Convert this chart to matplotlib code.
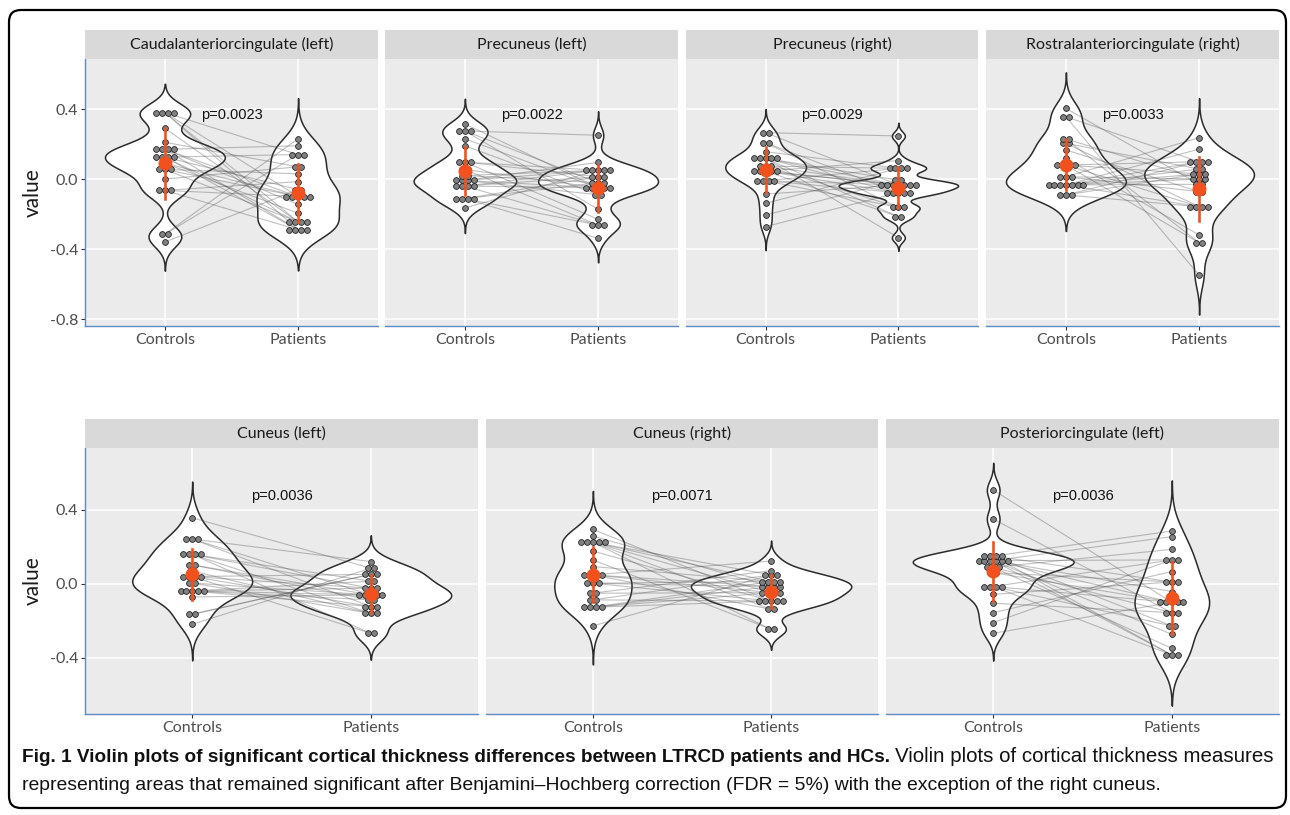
import numpy as np
import matplotlib
matplotlib.use("Agg")
import matplotlib.pyplot as plt
from matplotlib.patches import FancyBboxPatch

# -------------------------------------------------
# Data (pairs by index)
# -------------------------------------------------

groups = ["Controls", "Patients"]

top_titles = ["Caudalanteriorcingulate (left)", "Precuneus (left)",
              "Precuneus (right)", "Rostralanteriorcingulate (right)"]
top_pvals = ["p=0.0023", "p=0.0022", "p=0.0029", "p=0.0033"]

bot_titles = ["Cuneus (left)", "Cuneus (right)", "Posteriorcingulate (left)"]
bot_pvals = ["p=0.0036", "p=0.0071", "p=0.0036"]

caudal_l_ctrl = [0.38, 0.38, 0.38, 0.38, 0.29, 0.21, 0.17, 0.17, 0.17, 0.17, 0.125, 0.125, 0.125,
                 0.125, 0.09, 0.09, 0.055, 0.055, 0.055, 0.0, -0.065, -0.065, -0.065, -0.315, -0.315, -0.36]
caudal_l_pat = [-0.245, -0.1, 0.14, -0.29, -0.245, 0.07, -0.1, -0.29, 0.19, -0.145, -0.245, -0.06, 0.14,
                -0.29, -0.1, -0.195, 0.03, -0.245, -0.1, 0.07, -0.29, -0.015, -0.1, 0.23, 0.14, -0.06]

precun_l_ctrl = [0.315, 0.275, 0.275, 0.275, 0.23, 0.19, 0.097, 0.097, 0.097, 0.055, 0.055, 0.02, 0.02,
                 -0.008, -0.008, -0.008, -0.008, -0.04, -0.04, -0.04, -0.04, -0.112, -0.112, -0.112, -0.112, -0.165]
precun_l_pat = [-0.05, 0.25, -0.021, -0.173, -0.05, -0.09, 0.05, -0.23, 0.013, -0.05, -0.263, 0.05, -0.021,
                0.095, -0.05, 0.05, -0.09, 0.013, -0.263, 0.05, -0.05, -0.021, -0.339, 0.013, -0.263, 0.05]

precun_r_ctrl = [0.265, 0.265, 0.207, 0.207, 0.156, 0.118, 0.118, 0.118, 0.118, 0.118, 0.074, 0.074, 0.074,
                 0.045, 0.045, 0.045, 0.045, 0.045, -0.01, -0.01, -0.01, -0.01, -0.086, -0.139, -0.206, -0.272]
precun_r_pat = [0.246, -0.034, -0.078, -0.162, 0.061, -0.034, -0.215, -0.006, -0.078, -0.335, -0.034, 0.061, -0.162,
                -0.078, -0.034, 0.105, -0.034, -0.215, -0.078, 0.061, -0.034, -0.162, -0.034, 0.061, -0.006, -0.078]

rostral_r_ctrl = [0.404, 0.356, 0.356, 0.229, 0.229, 0.204, 0.204, 0.166, 0.118, 0.08, 0.08, 0.08, 0.08,
                  0.013, 0.013, 0.013, -0.034, -0.034, -0.034, -0.034, -0.034, -0.034, -0.034, -0.091, -0.091, -0.091]
rostral_r_pat = [-0.03, -0.549, 0.099, -0.364, 0.0, -0.158, 0.057, -0.072, -0.32, 0.099, -0.158, 0.029, -0.364,
                 0.0, 0.236, -0.072, 0.171, 0.029, -0.158, 0.099, 0.0, 0.057, -0.03, 0.029, -0.158, 0.099]

cuneus_l_ctrl = [0.358, 0.243, 0.243, 0.243, 0.16, 0.16, 0.16, 0.16, 0.103, 0.103, 0.07, 0.04, 0.04,
                 0.04, 0.04, 0.005, 0.005, -0.038, -0.038, -0.038, -0.038, -0.038, -0.07, -0.164, -0.164, -0.218]
cuneus_l_pat = [0.085, 0.121, -0.059, -0.122, -0.023, -0.159, -0.267, 0.015, -0.086, -0.059, -0.159, -0.267, -0.023,
                -0.122, 0.052, -0.059, -0.159, -0.086, 0.015, -0.122, -0.059, -0.023, -0.059, 0.052, 0.052, 0.085]

cuneus_r_ctrl = [0.295, 0.259, 0.225, 0.225, 0.225, 0.225, 0.225, 0.178, 0.13, 0.094, 0.049, 0.049, 0.049,
                 0.049, 0.004, 0.004, 0.004, -0.05, -0.05, -0.086, -0.086, -0.126, -0.126, -0.126, -0.126, -0.227]
cuneus_r_pat = [-0.092, -0.014, -0.137, 0.013, -0.245, -0.047, 0.049, -0.092, -0.245, 0.013, -0.014, -0.137, 0.124,
                -0.047, -0.092, 0.013, -0.014, 0.072, -0.047, -0.092, 0.049, -0.014, 0.013, -0.092, -0.047, 0.049]

postcing_l_ctrl = [0.508, 0.351, 0.151, 0.151, 0.151, 0.151, 0.126, 0.126, 0.126, 0.126, 0.126, 0.126, 0.09,
                   0.09, 0.09, 0.061, 0.061, -0.014, -0.014, -0.014, -0.014, -0.056, -0.104, -0.155, -0.209, -0.267]
postcing_l_pat = [-0.099, -0.155, 0.286, -0.384, 0.011, -0.227, 0.256, -0.099, -0.384, 0.13, -0.272, -0.041, -0.155,
                  0.187, -0.348, -0.099, 0.011, -0.384, 0.13, -0.227, -0.099, 0.011, -0.155, 0.067, 0.13, -0.099]

top_data = [(caudal_l_ctrl, caudal_l_pat), (precun_l_ctrl, precun_l_pat),
            (precun_r_ctrl, precun_r_pat), (rostral_r_ctrl, rostral_r_pat)]
bot_data = [(cuneus_l_ctrl, cuneus_l_pat), (cuneus_r_ctrl, cuneus_r_pat),
            (postcing_l_ctrl, postcing_l_pat)]

# -------------------------------------------------
# Layout (pixels)
# -------------------------------------------------

W, H = 1290, 815
fig = plt.figure(figsize=(W / 100, H / 100), dpi=100)

UI = "Lato"
ORANGE = "#F2511D"
AXBLUE = "#5A8BC6"


def frect(x0, y0, x1, y1):
    return [x0 / W, 1 - y1 / H, (x1 - x0) / W, (y1 - y0) / H]


def density(vals):
    vals = np.asarray(vals, dtype=float)
    n = len(vals)
    q75, q25 = np.percentile(vals, [75, 25])
    bw = 0.9 * min(vals.std(ddof=1), (q75 - q25) / 1.34) * n ** -0.2
    grid = np.linspace(vals.min() - 3 * bw, vals.max() + 3 * bw, 512)
    d = np.exp(-0.5 * ((grid[:, None] - vals[None, :]) / bw) ** 2).sum(axis=1)
    return grid, d / (n * bw * np.sqrt(2 * np.pi))


def panel(x0, x1, y0, y1, strip_top, ctrl, pat, title, ptxt, ylim, ytick, show_y, p_y):
    ax = fig.add_axes(frect(x0, y0, x1, y1))
    ax.set_facecolor("#EBEBEB")
    ax.set_xlim(0.4, 2.6)
    ax.set_ylim(*ylim)
    ax.set_axisbelow(True)
    ax.grid(True, color="white", lw=1.1)
    ax.set_xticks([1, 2])
    ax.set_xticklabels(groups, fontfamily=UI, fontsize=11.5, color="#4D4D4D")
    ax.set_yticks(ytick)
    ax.set_yticklabels([f"{t:.1f}".replace("-0.0", "0.0") for t in ytick],
                       fontfamily=UI, fontsize=11.5, color="#4D4D4D")
    ax.tick_params(length=3, width=0.8, color="#333333", pad=2)
    for s in ["top", "right", "left"]:
        ax.spines[s].set_visible(False)
    ax.spines["bottom"].set_color(AXBLUE)
    ax.spines["bottom"].set_linewidth(1.0)
    if show_y:
        ax.spines["left"].set_visible(True)
        ax.spines["left"].set_color(AXBLUE)
        ax.spines["left"].set_linewidth(1.0)
    else:
        ax.tick_params(axis="y", left=False, labelleft=False)

    # violins, area scaled, max width 0.9
    dens = [density(ctrl), density(pat)]
    dmax = max(d.max() for _, d in dens)
    for pos, (g, d) in zip([1, 2], dens):
        hw = d / dmax * 0.45
        ax.fill_betweenx(g, pos - hw, pos + hw, facecolor="white",
                         edgecolor="#2B2B2B", lw=1.1, zorder=2)

    # paired lines
    for a, b in zip(ctrl, pat):
        ax.plot([1, 2], [a, b], color="#4D4D4D", alpha=0.35, lw=0.8, zorder=3)

    # dot stacks
    dot_px = 5.8
    dx = dot_px * 2.2 / (x1 - x0)
    for pos, vals in zip([1, 2], [ctrl, pat]):
        u, c = np.unique(np.round(vals, 4), return_counts=True)
        xs, ys = [], []
        for v, k in zip(u, c):
            for i in range(k):
                xs.append(pos + (i - (k - 1) / 2) * dx)
                ys.append(v)
        ax.scatter(xs, ys, s=(dot_px * 0.72) ** 2, facecolor="#808080",
                   edgecolor="#1A1A1A", linewidth=0.55, zorder=4)

    # mean +- sd
    for pos, vals in zip([1, 2], [ctrl, pat]):
        m, sd = np.mean(vals), np.std(vals, ddof=1)
        ax.plot([pos, pos], [m - sd, m + sd], color=ORANGE, lw=1.9, zorder=5)
        ax.plot(pos, m, "o", ms=9, color=ORANGE, mec=ORANGE, zorder=6)

    ax.text(1.5, p_y, ptxt, ha="center", va="center", fontsize=10.5,
            fontfamily="Liberation Sans", color="#111111", zorder=7)

    # facet strip
    sax = fig.add_axes(frect(x0, strip_top, x1, y0))
    sax.set_facecolor("#D9D9D9")
    sax.set_xticks([])
    sax.set_yticks([])
    for s in sax.spines.values():
        s.set_visible(False)
    sax.text(0.5, 0.5, title, ha="center", va="center", fontsize=11.5,
             fontfamily=UI, color="#1A1A1A", transform=sax.transAxes)
    return ax


top_x = [(85, 378), (385, 678), (686, 978), (986, 1279)]
for i, ((x0, x1), (c, p)) in enumerate(zip(top_x, top_data)):
    panel(x0, x1, 59, 326, 30, c, p, top_titles[i], top_pvals[i],
          (-0.84, 0.686), [-0.8, -0.4, 0.0, 0.4], i == 0, 0.366)

bot_x = [(85, 478), (486, 878), (886, 1279)]
for i, ((x0, x1), (c, p)) in enumerate(zip(bot_x, bot_data)):
    panel(x0, x1, 448, 714, 419, c, p, bot_titles[i], bot_pvals[i],
          (-0.703, 0.735), [-0.4, 0.0, 0.4], i == 0, 0.476)

fig.text(33 / W, 1 - 193 / H, "value", rotation=90, ha="center", va="center",
         fontsize=15, fontfamily=UI, color="#1A1A1A")
fig.text(33 / W, 1 - 581 / H, "value", rotation=90, ha="center", va="center",
         fontsize=15, fontfamily=UI, color="#1A1A1A")

# -------------------------------------------------
# Caption and frame
# -------------------------------------------------

cap_font = ["Liberation Sans", "DejaVu Sans"]
bold_part = "Fig. 1 Violin plots of significant cortical thickness differences between LTRCD patients and HCs."
reg_part = "Violin plots of cortical thickness measures"
line2 = ("representing areas that remained significant after Benjamini\u2013Hochberg correction "
         "(FDR = 5%) with the exception of the right cuneus.")

r = fig.canvas.get_renderer()


def fit_text(x, y, s, width, **kw):
    # scale the font so the text spans the width it has in the reference
    t = fig.text(x / W, 1 - y / H, s, ha="left", va="center", fontsize=10,
                 family=cap_font, color="#111111", **kw)
    t.set_fontsize(10 * width / t.get_window_extent(renderer=r).width)
    return t


t1 = fit_text(22, 757, bold_part, 871, fontweight="bold")
bb = t1.get_window_extent(renderer=r)
fit_text(bb.x1 + 5, 757, reg_part, 1276 - bb.x1 - 5)
fit_text(22, 786, line2, 1140)

frame = FancyBboxPatch((0.09, 0.07), 12.77, 7.98,
                       boxstyle="round,pad=0,rounding_size=0.12",
                       transform=fig.dpi_scale_trans, facecolor="none",
                       edgecolor="black", lw=1.6)
fig.patches.append(frame)

fig.savefig("out.png", dpi=100)
